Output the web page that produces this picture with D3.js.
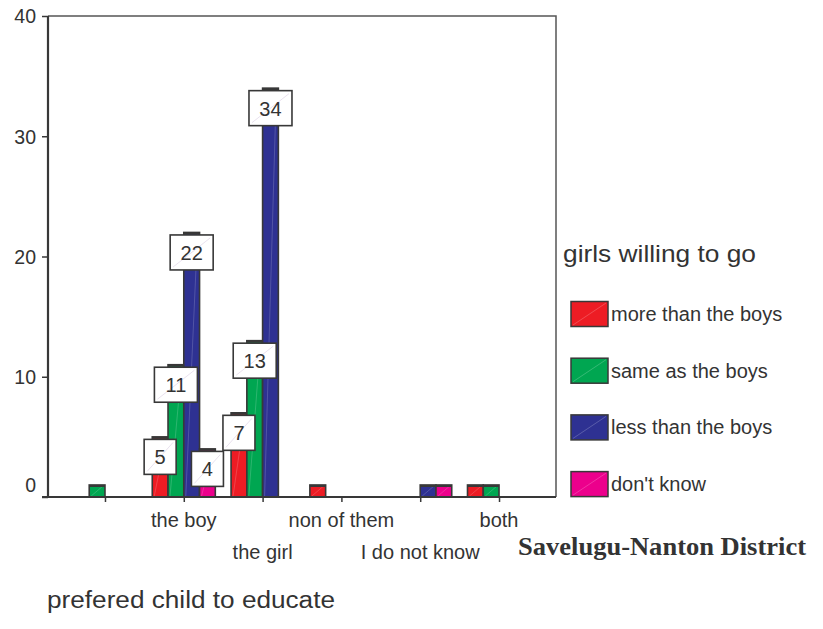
<!DOCTYPE html>
<html>
<head>
<meta charset="utf-8">
<script src="https://cdn.jsdelivr.net/npm/d3@7"></script>
<style>
  html, body { margin: 0; padding: 0; background: #fff; }
  svg text { font-family: "Liberation Sans", Arial, Helvetica, sans-serif; fill: #333; }
</style>
</head>
<body>
<svg id="chart" width="823" height="629"></svg>
<script>
// Preferred child to educate, by how willing girls are to go (Savelugu-Nanton District)
const categories = ["", "the boy", "the girl", "non of them", "I do not know", "both"];
const seriesNames = ["more than the boys", "same as the boys", "less than the boys", "don't know"];
const seriesColors = ["#ed1c24", "#00a651", "#2e3192", "#ec008c"];
const moreThanBoys = [0, 5, 7, 1, 0, 1];
const sameAsBoys   = [1, 11, 13, 0, 0, 1];
const lessThanBoys = [0, 22, 34, 0, 1, 0];
const dontKnow     = [0, 4, 0, 0, 1, 0];
const yTicks = [0, 10, 20, 30, 40];
const legendTitle = "girls willing to go";
const xTitle = "prefered child to educate";
const district = "Savelugu-Nanton District";

const seriesValues = [moreThanBoys, sameAsBoys, lessThanBoys, dontKnow];

const svg = d3.select("#chart");
const plot = { left: 48, right: 556, top: 16, bottom: 497 };
const ink = "#383838";

const y = d3.scaleLinear().domain([0, 40]).range([plot.bottom, plot.top]);
const x = d3.scalePoint().domain(categories).range([plot.left, plot.right]).padding(0.723);
const barW = x.step() * 0.2;
const inner = d3.scaleBand().domain(seriesNames).range([-2 * barW, 2 * barW]);

// flat list of bars
const bars = [];
seriesNames.forEach((s, si) => {
  categories.forEach((c, ci) => {
    bars.push({ series: s, color: seriesColors[si], cat: c, value: seriesValues[si][ci] });
  });
});

// frame: top and right edges
svg.append("path")
  .attr("d", `M${plot.left},${plot.top}H${plot.right}V${plot.bottom}`)
  .attr("fill", "none").attr("stroke", "#555").attr("stroke-width", 1.5);

// bars
const barG = svg.append("g");
const drawn = bars.filter(d => d.value > 0);
barG.selectAll("rect.bar").data(drawn).join("rect")
  .attr("class", "bar")
  .attr("x", d => x(d.cat) + inner(d.series))
  .attr("y", d => y(d.value))
  .attr("width", inner.bandwidth())
  .attr("height", d => y(0) - y(d.value))
  .attr("fill", d => d.color)
  .attr("stroke", ink).attr("stroke-width", 1.6);
// faint diagonal sheen across each bar
barG.selectAll("line.sheen").data(drawn).join("line")
  .attr("class", "sheen")
  .attr("x1", d => x(d.cat) + inner(d.series) + 2)
  .attr("y1", d => y(0) - 1)
  .attr("x2", d => x(d.cat) + inner(d.series) + inner.bandwidth() - 2)
  .attr("y2", d => y(d.value) + 1)
  .attr("stroke", "#fff").attr("stroke-opacity", 0.25).attr("stroke-width", 0.7);
// darker cap on the top edge
barG.selectAll("line.cap").data(drawn).join("line")
  .attr("class", "cap")
  .attr("x1", d => x(d.cat) + inner(d.series))
  .attr("x2", d => x(d.cat) + inner(d.series) + inner.bandwidth())
  .attr("y1", d => y(d.value) + 1).attr("y2", d => y(d.value) + 1)
  .attr("stroke", ink).attr("stroke-width", 2);

// y axis
const yAxis = svg.append("g").attr("transform", `translate(${plot.left},0)`)
  .call(d3.axisLeft(y).tickValues(yTicks).tickSize(6).tickPadding(6).tickFormat(d3.format("d")));
yAxis.select(".domain").attr("stroke", ink).attr("stroke-width", 2.2)
  .attr("d", `M0,${plot.top}V${plot.bottom}`);
yAxis.selectAll(".tick line").attr("stroke", ink).attr("stroke-width", 1.5);
yAxis.selectAll(".tick text")
  .style("font-size", "19.5px").attr("fill", "#333")
  .attr("dy", d => d === 0 ? "-0.3em" : "0.35em");

// x axis
const xAxis = svg.append("g").attr("transform", `translate(0,${plot.bottom})`)
  .call(d3.axisBottom(x).tickSize(5).tickFormat(""));
xAxis.select(".domain").attr("stroke", ink).attr("stroke-width", 2.2)
  .attr("d", `M${plot.left - 6},0H${plot.right}`);
xAxis.selectAll(".tick line").attr("stroke", ink).attr("stroke-width", 1.5);

// staggered category labels
svg.append("g").selectAll("text").data(categories).join("text")
  .attr("x", d => x(d))
  .attr("y", (d, i) => i % 2 === 1 ? 527 : 559)
  .attr("text-anchor", "middle")
  .style("font-size", "20px")
  .text(d => d);

// value boxes on the labelled bars
const labelled = drawn.filter(d => d.value > 1);
const boxG = svg.append("g").selectAll("g").data(labelled).join("g")
  .attr("transform", d => `translate(${x(d.cat) + inner(d.series) + inner.bandwidth() / 2},${y(d.value) + 2.5})`);
const boxW = d => String(d.value).length > 1 ? 43 : 32;
boxG.append("rect")
  .attr("x", d => -boxW(d) / 2).attr("y", 0)
  .attr("width", boxW).attr("height", 35)
  .attr("fill", "#fff").attr("stroke", ink).attr("stroke-width", 1.6);
boxG.append("line")
  .attr("x1", d => -boxW(d) / 2 + 3).attr("y1", 32)
  .attr("x2", d => boxW(d) / 2 - 3).attr("y2", 3)
  .attr("stroke", "#c9b6d6").attr("stroke-opacity", 0.6).attr("stroke-width", 0.7);
boxG.append("text")
  .attr("x", 0).attr("y", 25)
  .attr("text-anchor", "middle")
  .style("font-size", "20px")
  .text(d => d.value);

// legend
const legend = svg.append("g");
legend.append("text")
  .attr("x", 563).attr("y", 262)
  .style("font-size", "24px")
  .attr("textLength", 193).attr("lengthAdjust", "spacingAndGlyphs")
  .text(legendTitle);
const items = legend.selectAll("g.item").data(seriesNames).join("g")
  .attr("class", "item")
  .attr("transform", (d, i) => `translate(571,${314 + i * 56.7})`);
items.append("rect")
  .attr("x", 0).attr("y", -12.5).attr("width", 37).attr("height", 25)
  .attr("fill", (d, i) => seriesColors[i])
  .attr("stroke", ink).attr("stroke-width", 1.5);
items.append("line")
  .attr("x1", 2).attr("y1", 11).attr("x2", 35).attr("y2", -11)
  .attr("stroke", "#fff").attr("stroke-opacity", 0.3).attr("stroke-width", 0.7);
items.append("text")
  .attr("x", 40).attr("y", 0).attr("dy", "0.35em")
  .style("font-size", "20px")
  .text(d => d);

// district caption
svg.append("text")
  .attr("x", 518).attr("y", 555)
  .style("font-family", "'Liberation Serif', 'Times New Roman', serif")
  .style("font-weight", "bold").style("font-size", "25px")
  .attr("textLength", 288).attr("lengthAdjust", "spacingAndGlyphs")
  .text(district);

// x axis title
svg.append("text")
  .attr("x", 47).attr("y", 608)
  .style("font-size", "23px")
  .attr("textLength", 288).attr("lengthAdjust", "spacingAndGlyphs")
  .text(xTitle);
</script>
</body>
</html>
